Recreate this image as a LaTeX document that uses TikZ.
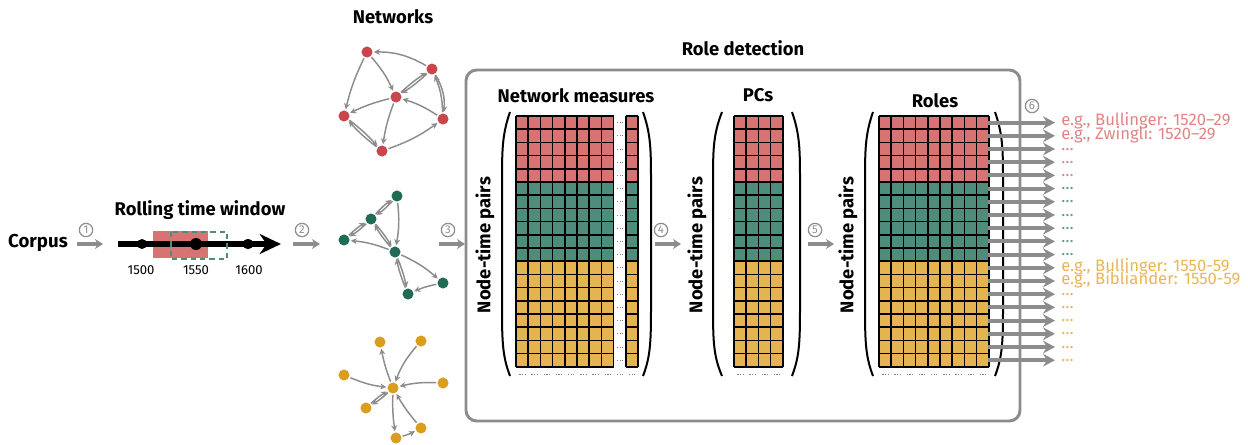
\documentclass[tikz,border=0pt]{standalone}
\usepackage{fontspec}
\setmainfont{Fira Sans}
\usetikzlibrary{arrows.meta,positioning}

\definecolor{cellred}{HTML}{D87373}
\definecolor{cellgreen}{HTML}{4E8C7B}
\definecolor{cellyellow}{HTML}{E3B450}
\definecolor{dotred}{HTML}{C9474C}
\definecolor{dotgreen}{HTML}{1F6B55}
\definecolor{dotyellow}{HTML}{DA9D1C}
\definecolor{labred}{HTML}{E08585}
\definecolor{labgreen}{HTML}{5E9E8A}
\definecolor{labyellow}{HTML}{E8B656}
\definecolor{linegray}{HTML}{8C8C8C}

\tikzset{
  title/.style={font=\bfseries\fontsize{13.8}{14}\selectfont, inner sep=0pt},
  stepnum/.style={draw=linegray, circle, line width=0.9pt, minimum size=10pt, inner sep=0pt, text=linegray, font=\fontsize{8.5}{9}\selectfont},
  flow/.style={draw=linegray, line width=2.4pt, -{Stealth[length=6pt,width=7.5pt]}},
  vert/.style={circle, minimum size=8.3pt, inner sep=0pt},
  edge/.style={draw=linegray, line width=1.1pt, -{Stealth[length=4.5pt,width=4.5pt]}, shorten >=0.8pt, shorten <=0.8pt},
  paren/.style={line width=1.5pt},
  gridline/.style={line width=1.3pt},
  outarrow/.style={draw=linegray, line width=3pt, -{Stealth[length=9pt,width=9.5pt,inset=3pt]}},
  outlabel/.style={anchor=west, inner sep=0pt, text height=6.6pt, text depth=1.6pt, font=\fontsize{12.5}{13}\selectfont},
  etc/.style={anchor=west, inner sep=0pt, text height=1.6pt, text depth=0pt, font=\fontsize{12.5}{13}\selectfont},
  year/.style={font=\fontsize{9.8}{10}\selectfont, inner sep=0pt},
  mdots/.style={draw=gray, line width=0.6pt, dash pattern=on 1pt off 1pt},
}

% x0, number of columns
\newcommand{\drawmatrix}[2]{%
  \fill[cellred] (#1,116) rectangle ++(#2*12.2,5*13.2);
  \fill[cellgreen] (#1,182) rectangle ++(#2*12.2,6*13.2);
  \fill[cellyellow] (#1,261.2) rectangle ++(#2*12.2,8*13.2);
  \foreach \k in {0,...,#2} \draw[gridline] (#1+\k*12.2,116) -- ++(0,250.8);
  \foreach \r in {0,...,19} \draw[gridline] (#1,116+\r*13.2) -- ++(#2*12.2,0);
  \foreach \k in {1,...,#2} \draw[mdots] (#1+\k*12.2-9,374) -- ++(6,0);
}

% x at top/bottom end, x at middle
\newcommand{\drawparen}[2]{%
  \draw[paren] (#1,112) .. controls (#2,135) and (#2,150) .. (#2,185) -- (#2,300)
    .. controls (#2,340) and (#2,355) .. (#1,376);
}

\begin{document}
\begin{tikzpicture}[x=0.75pt,y=-0.75pt]
\useasboundingbox (0,0) rectangle (1248,444);

% corpus and time window
\node (corpus) [font=\bfseries\fontsize{14}{14}\selectfont, inner sep=0pt] at (38,243) {Corpus};
\node (c1) [stepnum] at (86,230) {1};
\coordinate (a1) at (77,244);
\coordinate (b1) at (103,244);
\draw[flow] (a1) -- (b1);

\node (rtw) [title] at (200,210) {Rolling time window};
\fill[cellred] (153,231) rectangle (208,258);
\coordinate (tl0) at (118,244);
\coordinate (tl1) at (281,244);
\draw[black, line width=4.5pt, -{Stealth[length=16pt,width=15pt]}] (tl0) -- (tl1);
\node (t1) [vert, fill=black, minimum size=7.5pt] at (142,244) {};
\node (t2) [vert, fill=black, minimum size=9pt] at (196,244) {};
\node (t3) [vert, fill=black, minimum size=7.8pt] at (248,244) {};
\draw[cellgreen, line width=1.5pt, dash pattern=on 4pt off 3pt] (171,232) rectangle (227,259);
\node (y1) [year] at (141,270) {1500};
\node (y2) [year] at (196,270) {1550};
\node (y3) [year] at (249,270) {1600};

\node (c2) [stepnum] at (302,230) {2};
\coordinate (a2) at (293,244);
\coordinate (b2) at (320,244);
\draw[flow] (a2) -- (b2);

% networks
\node (nets) [title] at (393,17) {Networks};

\node (r1) [vert, fill=dotred] at (367,52) {};
\node (r2) [vert, fill=dotred] at (432,69) {};
\node (r3) [vert, fill=dotred] at (396,97) {};
\node (r4) [vert, fill=dotred] at (344,116) {};
\node (r5) [vert, fill=dotred] at (443,119) {};
\node (r6) [vert, fill=dotred] at (382,151) {};
\draw[edge] (r2) to[bend right=15] (r1);
\draw[edge] (r1) to[bend left=8] (r3);
\draw[edge] (r1) to[bend right=6] (r4);
\draw[edge] (r3) to[bend right=6] (r4);
\draw[edge] (r3) to[bend right=6] (r6);
\draw[edge] (r2) to[bend left=5] (r3);
\draw[edge] (r3) to[bend left=5] (r2);
\draw[edge] (r2) to[bend left=18] (r5);
\draw[edge] (r5) to[bend right=10] (r2);
\draw[edge] (r5) to[bend right=8] (r3);
\draw[edge] (r4) to[bend left=5] (r6);
\draw[edge] (r6) to[bend left=5] (r4);
\draw[edge] (r6) to[bend right=8] (r5);

\node (g1) [vert, fill=dotgreen] at (397,196) {};
\node (g2) [vert, fill=dotgreen] at (371,219) {};
\node (g3) [vert, fill=dotgreen] at (344,240) {};
\node (g4) [vert, fill=dotgreen] at (395,252) {};
\node (g5) [vert, fill=dotgreen] at (443,283) {};
\node (g6) [vert, fill=dotgreen] at (408,294) {};
\draw[edge] (g1) to[bend left=6] (g2);
\draw[edge] (g2) to[bend left=6] (g1);
\draw[edge] (g2) to[bend left=6] (g3);
\draw[edge] (g3) to[bend left=6] (g2);
\draw[edge] (g1) to[bend left=8] (g4);
\draw[edge] (g2) to[bend left=5] (g4);
\draw[edge] (g4) to[bend left=5] (g2);
\draw[edge] (g4) to[bend right=8] (g3);
\draw[edge] (g4) to[bend left=8] (g5);
\draw[edge] (g4) to[bend left=5] (g6);
\draw[edge] (g6) to[bend left=5] (g4);
\draw[edge] (g5) to[bend right=6] (g6);

\node (o0) [vert, fill=dotyellow] at (393,388) {};
\node (o1) [vert, fill=dotyellow] at (380,342) {};
\node (o2) [vert, fill=dotyellow] at (421,341) {};
\node (o3) [vert, fill=dotyellow] at (344,375) {};
\node (o4) [vert, fill=dotyellow] at (443,383) {};
\node (o5) [vert, fill=dotyellow] at (366,408) {};
\node (o6) [vert, fill=dotyellow] at (396,438) {};
\node (o7) [vert, fill=dotyellow] at (421,428) {};
\draw[edge] (o0) to[bend left=5] (o1);
\draw[edge] (o2) to[bend right=10] (o0);
\draw[edge] (o3) to[bend right=8] (o0);
\draw[edge] (o4) to[bend right=8] (o0);
\draw[edge] (o0) to[bend left=6] (o5);
\draw[edge] (o5) to[bend left=6] (o0);
\draw[edge] (o0) to[bend right=5] (o6);
\draw[edge] (o7) to[bend left=5] (o0);
\draw[edge] (o6) to[bend right=6] (o7);

\node (c3) [stepnum] at (448,230) {3};
\coordinate (a3) at (439,244);
\coordinate (b3) at (465,244);
\draw[flow] (a3) -- (b3);

% role detection
\node (rd) [title] at (743,48) {Role detection};
\draw[draw=linegray, line width=2.2pt, rounded corners=8pt] (466,70) rectangle (1020,421);

\node (nm) [title] at (576,96) {Network measures};
\node (np1) [title, rotate=90] at (485,245) {Node-time pairs};
\drawmatrix{516}{8}
\fill[cellred] (626,116) rectangle ++(12.2,5*13.2);
\fill[cellgreen] (626,182) rectangle ++(12.2,6*13.2);
\fill[cellyellow] (626,261.2) rectangle ++(12.2,8*13.2);
\draw[gridline] (626,116) -- ++(0,250.8) (638.2,116) -- ++(0,250.8);
\foreach \r in {0,...,19} \draw[gridline] (626,116+\r*13.2) -- ++(12.2,0);
\foreach \r in {0,...,18} \draw[mdots] (617,122.6+\r*13.2) -- ++(6,0);
\draw[mdots] (617,374) -- ++(6,0) (629,374) -- ++(6,0);
\drawparen{510}{502}
\drawparen{643}{651}

\node (c4) [stepnum] at (661,230) {4};
\coordinate (a4) at (655,244);
\coordinate (b4) at (681,244);
\draw[flow] (a4) -- (b4);

\node (pcs) [title] at (758,95) {PCs};
\node (np2) [title, rotate=90] at (697,245) {Node-time pairs};
\drawmatrix{734}{4}
\drawparen{722}{713}
\drawparen{792}{800}

\node (c5) [stepnum] at (815,230) {5};
\coordinate (a5) at (808,244);
\coordinate (b5) at (834,244);
\draw[flow] (a5) -- (b5);

\node (roles) [title] at (935,101) {Roles};
\node (np3) [title, rotate=90] at (848,245) {Node-time pairs};
\drawmatrix{879}{9}
\drawparen{873}{865}
\drawparen{995}{1003}

% role outputs
\node (c6) [stepnum] at (1032,106) {6};
\foreach \i in {0,...,18} {
  \coordinate (src\i) at (988,{116+(\i+0.5)*13.2});
  \coordinate (tip\i) at (1055,{116+(\i+0.5)*13.2});
  \draw[outarrow] (src\i) -- (tip\i);
}
\node (l0) [outlabel, text=labred] at (1061,122.6) {e.g., Bullinger: 1520--29};
\node (l1) [outlabel, text=labred] at (1061,135.8) {e.g., Zwingli: 1520--29};
\foreach \i in {2,3,4} \node (l\i) [etc, text=labred] at (1061,{116+(\i+0.5)*13.2}) {\ldots};
\foreach \i in {5,6,7,8,9,10} \node (l\i) [etc, text=labgreen] at (1061,{116+(\i+0.5)*13.2}) {\ldots};
\node (l11) [outlabel, text=labyellow] at (1061,267.8) {e.g., Bullinger: 1550-59};
\node (l12) [outlabel, text=labyellow] at (1061,281.0) {e.g., Bibliander: 1550-59};
\foreach \i in {13,14,15,16,17,18} \node (l\i) [etc, text=labyellow] at (1061,{116+(\i+0.5)*13.2}) {\ldots};
\end{tikzpicture}
\end{document}
